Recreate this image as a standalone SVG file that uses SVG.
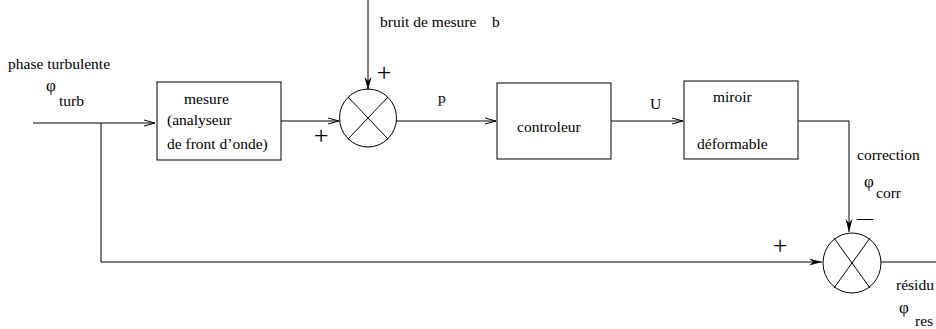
<svg xmlns="http://www.w3.org/2000/svg" width="936" height="329" viewBox="0 0 936 329">
<defs>
<style>
text{font-family:"Liberation Serif","Times New Roman",serif;font-size:15.5px;fill:#000}
.ln{fill:none;stroke:#000;stroke-width:1}
.box{fill:#fff;stroke:#000;stroke-width:1}
.sym{font-size:17px}
.pm{font-size:26px;text-anchor:middle}
</style>
<marker id="open" markerWidth="12" markerHeight="8" refX="11" refY="4" orient="auto" markerUnits="userSpaceOnUse">
<path d="M0,1 L11,4 L0,7" fill="none" stroke="#000" stroke-width="1"/>
</marker>
<marker id="fill" markerWidth="14" markerHeight="8" refX="13" refY="4" orient="auto" markerUnits="userSpaceOnUse">
<path d="M0,0.5 L13,4 L0,7.5 L4,4 Z" fill="#000"/>
</marker>
</defs>
<g id="connectors">
<path class="ln" d="M33,123 H155" marker-end="url(#open)"/>
<path class="ln" d="M101,123 V262 H822" marker-end="url(#fill)"/>
<path class="ln" d="M281,121 H339" marker-end="url(#open)"/>
<path class="ln" d="M368,0 V90" marker-end="url(#fill)"/>
<path class="ln" d="M396,121 H496" marker-end="url(#open)"/>
<path class="ln" d="M611,121 H683" marker-end="url(#open)"/>
<path class="ln" d="M798,121 H849 V232" marker-end="url(#fill)"/>
<path class="ln" d="M881,262 H936"/>
</g>
<g id="phase-input">
<text x="8" y="69">phase turbulente</text>
<text x="46" y="91" class="sym">φ</text>
<text x="59" y="106">turb</text>
</g>
<g id="mesure">
<rect class="box" x="157" y="82" width="124" height="78"/>
<text x="184" y="104">mesure</text>
<text x="167" y="125">(analyseur</text>
<text x="167" y="149">de front d’onde)</text>
</g>
<g id="sum1">
<ellipse class="ln" cx="368" cy="118" rx="28.5" ry="29"/>
<path class="ln" d="M348,97 L388,139 M388,97 L348,139"/>
<text x="380" y="27">bruit de mesure</text>
<text x="492" y="27">b</text>
<text x="384" y="81" class="pm">+</text>
<text x="321" y="144" class="pm">+</text>
<text x="438" y="103">p</text>
</g>
<g id="controleur">
<rect class="box" x="497" y="83" width="114" height="76"/>
<text x="517" y="132">controleur</text>
</g>
<g id="u-label">
<text x="650" y="109">U</text>
</g>
<g id="miroir">
<rect class="box" x="684" y="81" width="114" height="78"/>
<text x="713" y="102">miroir</text>
<text x="697" y="149">déformable</text>
</g>
<g id="correction-label">
<text x="857" y="160">correction</text>
<text x="864" y="187" class="sym">φ</text>
<text x="876" y="198">corr</text>
<text x="857" y="223" style="font-size:16px">—</text>
</g>
<g id="sum2">
<ellipse class="ln" cx="852" cy="263" rx="29" ry="30"/>
<path class="ln" d="M834,238 L870,288 M870,238 L834,288"/>
<text x="780" y="254" class="pm">+</text>
<text x="896" y="290">résidu</text>
<text x="899" y="313" class="sym">φ</text>
<text x="915" y="326">res</text>
</g>
</svg>
